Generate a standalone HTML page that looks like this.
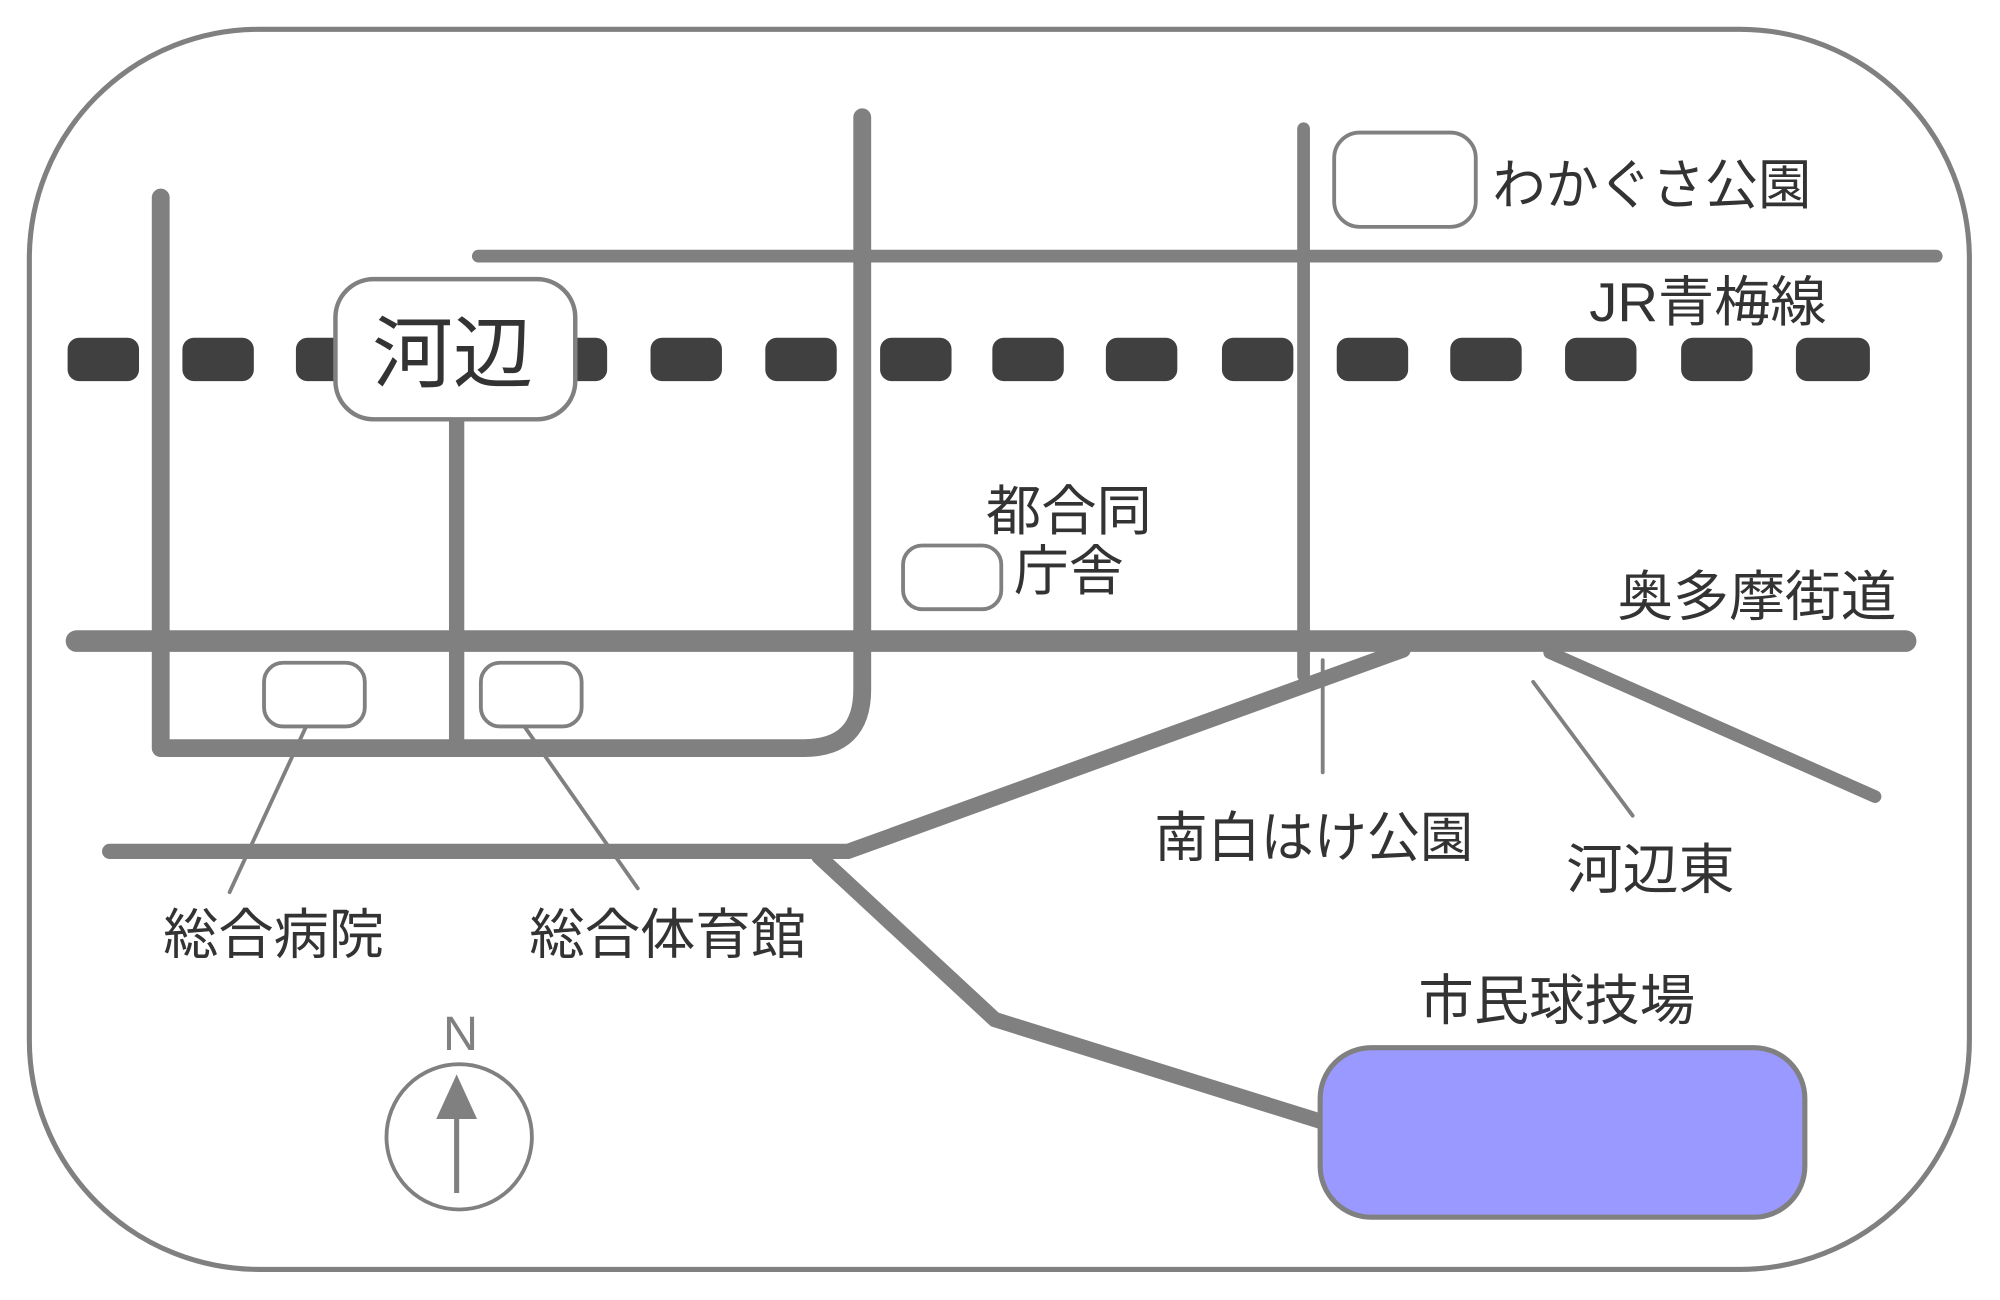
<!DOCTYPE html>
<html><head><meta charset="utf-8"><style>
html,body{margin:0;padding:0;background:#fff;}
svg{display:block;}
text{font-family:"Liberation Sans","Noto Sans CJK JP",sans-serif;fill:#333;}
</style></head><body>
<svg width="2000" height="1300" viewBox="0 0 1568 1020" preserveAspectRatio="none" xmlns="http://www.w3.org/2000/svg">
<rect x="0" y="0" width="1568" height="1020" fill="#fff"/>
<rect x="23" y="23" width="1521" height="973" rx="180" ry="180" fill="none" stroke="#808080" stroke-width="4"/>
<g fill="#404040">
<rect x="53" y="265" width="56" height="34" rx="9"/>
<rect x="143" y="265" width="56" height="34" rx="9"/>
<rect x="232" y="265" width="56" height="34" rx="9"/>
<rect x="420" y="265" width="56" height="34" rx="9"/>
<rect x="510" y="265" width="56" height="34" rx="9"/>
<rect x="600" y="265" width="56" height="34" rx="9"/>
<rect x="690" y="265" width="56" height="34" rx="9"/>
<rect x="778" y="265" width="56" height="34" rx="9"/>
<rect x="867" y="265" width="56" height="34" rx="9"/>
<rect x="958" y="265" width="56" height="34" rx="9"/>
<rect x="1048" y="265" width="56" height="34" rx="9"/>
<rect x="1137" y="265" width="56" height="34" rx="9"/>
<rect x="1227" y="265" width="56" height="34" rx="9"/>
<rect x="1318" y="265" width="56" height="34" rx="9"/>
<rect x="1408" y="265" width="58" height="34" rx="9"/>
</g>
<g stroke="#808080" fill="none" stroke-linecap="round" stroke-linejoin="round">
<line x1="375" y1="201" x2="1518" y2="201" stroke-width="10"/>
<line x1="1022" y1="101" x2="1022" y2="530" stroke-width="10"/>
<path d="M126 155 V587 H630 Q676 587 676 541 V92" stroke-width="14"/>
<line x1="358" y1="330" x2="358" y2="582" stroke-width="12"/>
<line x1="60" y1="503" x2="1494" y2="503" stroke-width="17"/>
<path d="M86 668 H665 L1100 510" stroke-width="12"/>
<path d="M642 672 L780 800 L1036 880" stroke-width="12"/>
<line x1="1215" y1="512" x2="1470" y2="625" stroke-width="10"/>
<g stroke-width="3">
<line x1="1037" y1="518" x2="1037" y2="606"/>
<line x1="1202" y1="535" x2="1280" y2="640"/>
<line x1="246" y1="557" x2="180" y2="700"/>
<line x1="402" y1="557" x2="500" y2="697"/>
</g>
</g>
<rect x="263" y="219" width="188" height="110" rx="30" fill="#fff" stroke="#808080" stroke-width="3.5"/>
<text x="292" y="299" font-size="62" textLength="126" lengthAdjust="spacingAndGlyphs">河辺</text>
<g fill="#fff" stroke="#808080" stroke-width="3">
<rect x="207" y="520" width="79" height="50" rx="15"/>
<rect x="377" y="520" width="79" height="50" rx="15"/>
<rect x="708" y="428" width="77" height="50" rx="15"/>
<rect x="1046" y="104" width="111" height="74" rx="20"/>
</g>
<rect x="1035" y="822" width="380" height="133" rx="40" fill="#9999ff" stroke="#808080" stroke-width="4"/>
<circle cx="360" cy="892" r="57" fill="none" stroke="#808080" stroke-width="3"/>
<line x1="358" y1="936" x2="358" y2="872" stroke="#808080" stroke-width="4"/>
<polygon points="342,878 374,878 358,843" fill="#808080"/>
<text x="361" y="824" font-size="38" text-anchor="middle" style="fill:#808080">N</text>
<g font-size="43" lengthAdjust="spacingAndGlyphs">
<text x="1170" y="160" textLength="250" lengthAdjust="spacingAndGlyphs">わかぐさ公園</text>
<text x="1246" y="252" textLength="186" lengthAdjust="spacingAndGlyphs">JR青梅線</text>
<text x="773" y="416" textLength="130" lengthAdjust="spacingAndGlyphs">都合同</text>
<text x="795" y="463" textLength="86" lengthAdjust="spacingAndGlyphs">庁舎</text>
<text x="1268" y="483" textLength="219" lengthAdjust="spacingAndGlyphs">奥多摩街道</text>
<text x="905" y="672" textLength="250" lengthAdjust="spacingAndGlyphs">南白はけ公園</text>
<text x="1228" y="697" textLength="132" lengthAdjust="spacingAndGlyphs">河辺東</text>
<text x="128" y="748" textLength="173" lengthAdjust="spacingAndGlyphs">総合病院</text>
<text x="415" y="748" textLength="217" lengthAdjust="spacingAndGlyphs">総合体育館</text>
<text x="1112" y="800" textLength="217" lengthAdjust="spacingAndGlyphs">市民球技場</text>
</g>
</svg>
</body></html>
